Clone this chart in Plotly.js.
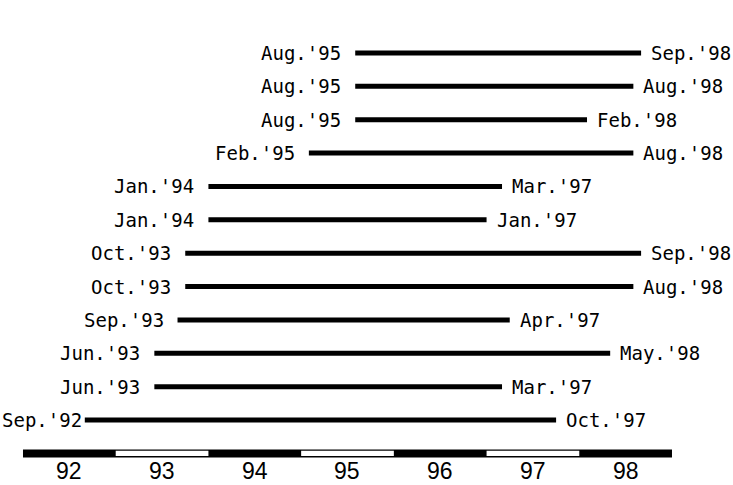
<!DOCTYPE html>
<html>
<head>
<meta charset="utf-8">
<script src="https://cdn.plot.ly/plotly-3.0.1.min.js"></script>
<style>html,body{margin:0;padding:0;background:#fff;}#chart{width:733px;height:485px;}</style>
</head>
<body>
<div id="chart"></div>
<script>
// ---- data (rows listed top to bottom) ----
var monthNames = ['Jan','Feb','Mar','Apr','May','Jun','Jul','Aug','Sep','Oct','Nov','Dec'];
var startYear  = [1995,1995,1995,1995,1994,1994,1993,1993,1993,1993,1993,1992];
var startMonth = [8,8,8,2,1,1,10,10,9,6,6,9];
var endYear    = [1998,1998,1998,1998,1997,1997,1998,1998,1997,1998,1997,1997];
var endMonth   = [9,8,2,8,3,1,9,8,4,5,3,10];
var bandYears  = [1992,1993,1994,1995,1996,1997,1998];
var bandLabels = ['92','93','94','95','96','97','98'];

// ---- build ----
function toX(y,m){ return y + (m-1)/12; }
function lab(y,m){ return monthNames[m-1] + ".'" + String(y).slice(2); }

var n = startYear.length;
var xs = [], ys = [];
var annotations = [], shapes = [];
var W = 733, H = 485;
var xr = [1991.752, 1999.658], yr = [-0.947, 13.588];
var pxPerYear = W/(xr[1]-xr[0]);
var fs = 19, labelW = 7*0.602*fs;

for (var i=0;i<n;i++){
  var yv = n - i;              // top row = 12, bottom row = 1
  var x0 = toX(startYear[i], startMonth[i]);
  var x1 = toX(endYear[i], endMonth[i]);
  xs.push(x0, x1, null); ys.push(yv, yv, null);
  var px0 = (x0 - xr[0]) * pxPerYear;
  var gap = Math.max(0, Math.min(12, px0 - labelW - 4));
  annotations.push({x:x0, y:yv, xref:'x', yref:'y', text:lab(startYear[i],startMonth[i]),
    showarrow:false, xanchor:'right', yanchor:'middle', xshift:-gap,
    font:{family:'DejaVu Sans Mono, monospace', size:fs, color:'#000'}});
  annotations.push({x:x1, y:yv, xref:'x', yref:'y', text:lab(endYear[i],endMonth[i]),
    showarrow:false, xanchor:'left', yanchor:'middle', xshift:8,
    font:{family:'DejaVu Sans Mono, monospace', size:fs, color:'#000'}});
}

// timeline band
shapes.push({type:'rect', xref:'x', yref:'y', x0:bandYears[0], x1:bandYears[bandYears.length-1]+1,
  y0:-0.12, y1:0.12, fillcolor:'#000', line:{width:0}, layer:'above'});
for (var k=0;k<bandYears.length;k++){
  if (k % 2 === 1){
    shapes.push({type:'rect', xref:'x', yref:'y', x0:bandYears[k], x1:bandYears[k]+1,
      y0:-0.08, y1:0.08, fillcolor:'#fff', line:{width:0}, layer:'above'});
  }
  annotations.push({x:bandYears[k]+0.5, y:0, xref:'x', yref:'y', text:bandLabels[k],
    showarrow:false, xanchor:'center', yanchor:'middle', yshift:-18, borderpad:0,
    font:{family:'Liberation Sans, Arial, sans-serif', size:23, color:'#000'}});
}

var trace = {x:xs, y:ys, type:'scatter', mode:'lines',
  line:{color:'#000', width:5}, hoverinfo:'skip', connectgaps:false};

var layout = {
  width:W, height:H,
  margin:{l:0,r:0,t:0,b:0},
  paper_bgcolor:'#fff', plot_bgcolor:'#fff',
  showlegend:false,
  xaxis:{range:xr, visible:false, fixedrange:true},
  yaxis:{range:yr, visible:false, fixedrange:true},
  shapes:shapes, annotations:annotations
};
Plotly.newPlot('chart', [trace], layout, {staticPlot:true, displayModeBar:false});
</script>
</body>
</html>
